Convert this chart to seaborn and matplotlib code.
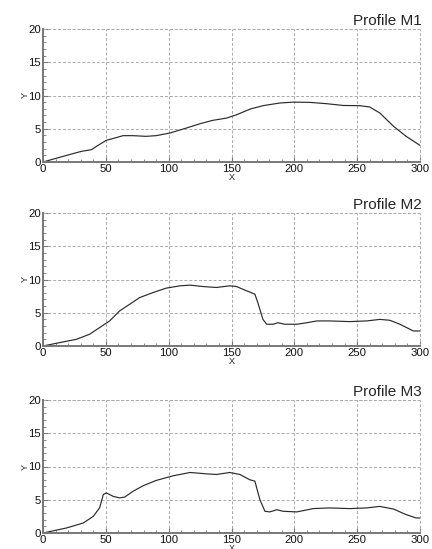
import matplotlib
matplotlib.use("Agg")
import matplotlib.pyplot as plt
import seaborn as sns
import pandas as pd
from matplotlib.ticker import MultipleLocator

# ---- data ----
m1_x = [0, 16, 30.5, 38.5, 42.5, 50.4, 57, 63.7, 71.7, 82, 90, 101, 114, 125, 135, 146,
        154, 165, 175, 188.5, 199, 212, 225.6, 239, 252, 260, 268, 279, 289, 300]
m1_y = [0, 0.85, 1.6, 1.85, 2.35, 3.26, 3.6, 3.96, 3.96, 3.86, 3.96, 4.36, 5.1, 5.76, 6.26, 6.6,
        7.1, 7.97, 8.47, 8.87, 9.0, 8.97, 8.77, 8.5, 8.47, 8.27, 7.37, 5.36, 3.86, 2.5]

m2_x = [0, 13, 26.5, 37, 45, 53, 61, 69, 77, 87.6, 98, 109, 117, 127.4, 138, 148.7, 154, 162,
        168.6, 171, 175, 178, 183, 187, 192.5, 202, 210, 218, 228, 244, 257.5, 268, 276, 284,
        294.7, 300]
m2_y = [0, 0.5, 1.0, 1.76, 2.76, 3.77, 5.28, 6.28, 7.29, 8.04, 8.7, 9.05, 9.15, 8.94, 8.8, 9.05,
        8.94, 8.3, 7.8, 6.5, 4.0, 3.27, 3.27, 3.5, 3.27, 3.27, 3.5, 3.77, 3.77, 3.67, 3.77, 4.0,
        3.87, 3.27, 2.26, 2.26]

m3_x = [0, 18.6, 32, 40, 45, 48, 50.4, 56, 61, 65, 71.7, 79.6, 90, 103.5, 117, 130, 138, 148.7,
        156.7, 164.6, 168.6, 172.6, 176.6, 180.5, 186, 191, 202, 215, 228, 244, 257.5, 268, 279,
        289, 297, 300]
m3_y = [0, 0.75, 1.5, 2.5, 3.77, 5.78, 6.03, 5.5, 5.28, 5.4, 6.28, 7.1, 7.9, 8.6, 9.1, 8.9, 8.8,
        9.1, 8.8, 8.0, 7.8, 5.0, 3.27, 3.17, 3.5, 3.27, 3.17, 3.67, 3.77, 3.67, 3.77, 4.0, 3.6,
        2.76, 2.26, 2.26]

titles = ["Profile M1", "Profile M2", "Profile M3"]
xlabel = "X"
ylabel = "Y"
xticks = [0, 50, 100, 150, 200, 250, 300]
yticks = [0, 5, 10, 15, 20]

sns.set_style("white")
plt.rcParams['font.family'] = ['Liberation Sans', 'DejaVu Sans']

fig = plt.figure(figsize=(4.32, 5.49), dpi=100)
W, H = 432.0, 549.0
left, right = 43, 420
panels = [(29, 162), (213, 346), (400, 533)]
series = [(m1_x, m1_y), (m2_x, m2_y), (m3_x, m3_y)]

for i, ((top, bot), (xs, ys), title) in enumerate(zip(panels, series, titles)):
    ax = fig.add_axes([left / W, 1 - bot / H, (right - left) / W, (bot - top) / H])
    df = pd.DataFrame({"x": xs, "y": ys})
    sns.lineplot(data=df, x="x", y="y", ax=ax, color="#2a2a2a", linewidth=0.85)
    ax.set_xlim(0, 300)
    ax.set_ylim(0, 20)
    ax.set_xticks(xticks)
    ax.set_yticks(yticks)
    ax.xaxis.set_minor_locator(MultipleLocator(10))
    ax.yaxis.set_minor_locator(MultipleLocator(1))
    ax.grid(True, which="major", linestyle=(0, (3, 2)), color="#aaaaaa", linewidth=0.7)
    ax.set_axisbelow(True)
    for s in ["top", "right"]:
        ax.spines[s].set_visible(False)
    for s in ["left", "bottom"]:
        ax.spines[s].set_color("#777777")
        ax.spines[s].set_linewidth(1.4)
    ax.axhline(20, linestyle=(0, (3, 2)), color="#aaaaaa", linewidth=0.7, clip_on=False)
    ax.axvline(300, linestyle=(0, (3, 2)), color="#aaaaaa", linewidth=0.7, clip_on=False)
    ax.tick_params(which="both", bottom=True, left=True, top=False, right=False)
    ax.tick_params(which="major", direction="in", length=3.5, width=0.8, color="#777777",
                   labelsize=8.2, pad=1.5, labelcolor="#111111")
    ax.tick_params(which="minor", direction="in", length=2.5, width=0.7, color="#888888")
    ax.set_xlabel(xlabel, fontsize=6.5, labelpad=-1)
    ax.set_ylabel(ylabel, fontsize=6.5, labelpad=-1)
    ax.set_title(title, loc="right", fontsize=11, pad=3, x=1.005)

fig.savefig("out.png", dpi=100)
